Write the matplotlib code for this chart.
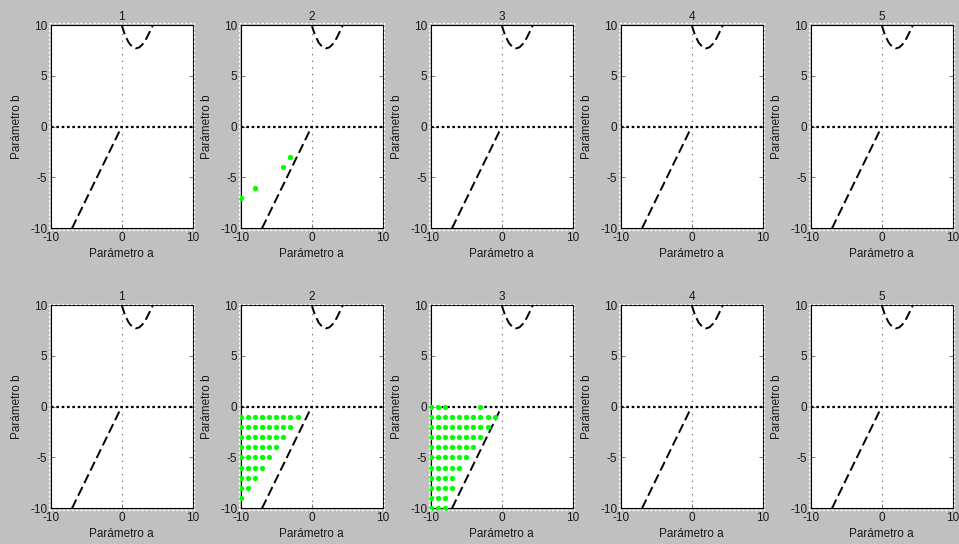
import numpy as np
import matplotlib
matplotlib.use("Agg")
import matplotlib.pyplot as plt
from matplotlib.patches import Rectangle

plt.rcParams['font.family'] = ['Liberation Sans', 'DejaVu Sans']
plt.rcParams['axes.unicode_minus'] = False

# Axes limits and ticks
a_lim = (-10, 10)
b_lim = (-10, 10)
a_ticks = [-10, 0, 10]
b_ticks = [-10, -5, 0, 5, 10]
panel_titles = ["1", "2", "3", "4", "5"]
x_label = "Parámetro a"
y_label = "Parámetro b"

# Upper boundary curve (dashed)
upper_a = [0.0, 0.25, 0.5, 1.0, 1.5, 2.0, 2.5, 3.0, 3.5, 4.0, 4.4]
upper_b = [10.0, 9.45, 8.95, 8.25, 7.85, 7.7, 7.8, 8.15, 8.7, 9.4, 10.0]

# Lower boundary line (dashed)
lower_a = [-7.0, 0.0]
lower_b = [-10.0, 0.0]

# Points found in row 1, panel 2
top2_a = [-10, -8, -4, -3]
top2_b = [-7, -6, -4, -3]

# Row 2, panel 2: each grid row b runs from a = -10 up to the listed last a
bot2_rows_b = [-1, -2, -3, -4, -5, -6, -7, -8, -9]
bot2_last_a = [-2, -3, -4, -5, -6, -7, -8, -9, -10]

# Row 2, panel 3
bot3_rows_b = [-1, -2, -3, -4, -5, -6, -7, -8, -9, -10]
bot3_last_a = [-1, -2, -3, -4, -5, -6, -7, -7, -8, -8]
bot3_extra_a = [-10, -9, -8, -3]
bot3_extra_b = [0, 0, 0, 0]


def grid_points(rows_b, last_a):
    pa, pb = [], []
    for b, amax in zip(rows_b, last_a):
        for a in range(-10, amax + 1):
            pa.append(a)
            pb.append(b)
    return pa, pb


bot2_a, bot2_b = grid_points(bot2_rows_b, bot2_last_a)
bot3_a, bot3_b = grid_points(bot3_rows_b, bot3_last_a)
bot3_a += bot3_extra_a
bot3_b += bot3_extra_b

points = {
    (0, 1): (top2_a, top2_b),
    (1, 1): (bot2_a, bot2_b),
    (1, 2): (bot3_a, bot3_b),
}

W, H = 959, 544
fig = plt.figure(figsize=(W / 100, H / 100), dpi=100, facecolor='#c0c0c0')


def px_rect(l, t, w, h):
    return [l / W, 1 - (t + h) / H, w / W, h / H]


ax_w, ax_h = 142.0, 203.3
row_tops = [25.0, 305.0]
col_lefts = [50.7 + 190.0 * i for i in range(5)]

for r, top in enumerate(row_tops):
    for c, left in enumerate(col_lefts):
        ax = fig.add_axes(px_rect(left, top, ax_w, ax_h))
        ax.set_facecolor('white')
        ax.set_xlim(*a_lim)
        ax.set_ylim(*b_lim)
        ax.set_xticks(a_ticks)
        ax.set_yticks(b_ticks)
        ax.tick_params(direction='in', length=3, width=0.6, color='#606060',
                       top=True, right=True, labelsize=8.5, pad=2.5,
                       labelcolor='#1a1a1a')
        for sp in ax.spines.values():
            sp.set_linewidth(0.8)
            sp.set_color('black')

        # reference axes lines
        ax.plot([0, 0], b_lim, color='#505050', lw=0.8,
                linestyle=(0, (1, 5)), zorder=1)
        ax.plot(a_lim, [0, 0], color='black', lw=1.6,
                linestyle=(0, (1.2, 1.2)), zorder=2)

        # boundary curves
        ax.plot(upper_a, upper_b, color='black', lw=1.4,
                linestyle=(0, (5.0, 2.2)), zorder=3)
        ax.plot(lower_a, lower_b, color='black', lw=1.4,
                linestyle=(0, (5.0, 2.2)), zorder=3)

        if (r, c) in points:
            pa, pb = points[(r, c)]
            ax.plot(pa, pb, 'o', color='#00ff00', ms=3.8, mec='none',
                    clip_on=False, zorder=4)

        ax.set_title(panel_titles[c], fontsize=8.5, pad=3.5, color='#1a1a1a')
        ax.set_xlabel(x_label, fontsize=8.5, labelpad=3, color='#1a1a1a')
        ax.set_ylabel(y_label, fontsize=8.5, labelpad=5, color='#1a1a1a')

        # dashed white outline around each axes
        off = 1.5
        fig.add_artist(Rectangle(((left - off) / W, 1 - (top + ax_h + off) / H),
                                 (ax_w + 2 * off) / W, (ax_h + 2 * off) / H,
                                 transform=fig.transFigure, fill=False,
                                 edgecolor='white', lw=0.9,
                                 linestyle=(0, (2, 1.5)), zorder=10))

fig.savefig('out.png', dpi=100, facecolor=fig.get_facecolor())
